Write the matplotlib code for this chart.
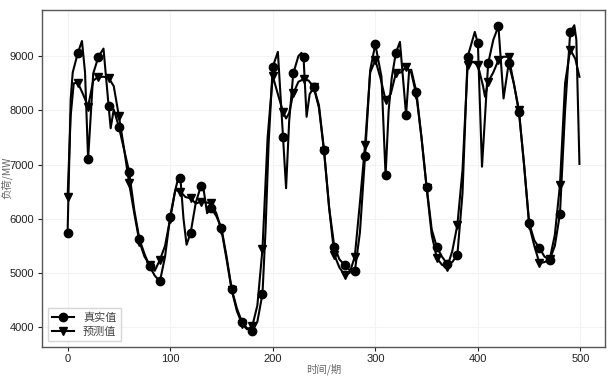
import matplotlib
matplotlib.use("Agg")
import matplotlib.pyplot as plt

real_x = [0, 3, 5, 10, 14, 17, 20, 25, 30, 35, 40, 42, 45, 50, 55, 60, 65, 70, 75, 80,
          85, 90, 95, 100, 105, 108, 110, 113, 116, 120, 125, 130, 132, 136, 140, 145, 150,
          155, 160, 165, 170, 175, 180, 185, 190, 193, 196, 200, 205, 210, 213, 216, 220,
          225, 228, 230, 233, 236, 240, 245, 250, 255, 260, 265, 270, 275, 280, 285, 290,
          295, 300, 306, 310, 313, 316, 320, 324, 330, 333, 335, 340, 345, 350, 355, 360,
          365, 370, 375, 380, 385, 390, 397, 400, 404, 407, 410, 415, 420, 425, 430, 435,
          440, 445, 450, 455, 460, 465, 470, 475, 480, 485, 490, 494, 496, 499]
real_y = [5745, 8200, 8700, 9060, 9280, 8700, 7097, 8680, 8988, 9140, 8079, 7670, 8018,
          7698, 7280, 6869, 6163, 5624, 5350, 5119, 4950, 4843, 5300, 6040, 6530, 6760,
          6747, 6000, 5520, 5745, 6300, 6605, 6620, 6102, 6195, 6050, 5826, 5300, 4702,
          4350, 4095, 3980, 3922, 4100, 4616, 5800, 7400, 8803, 9080, 7514, 6563, 7800,
          8681, 9000, 9061, 8988, 7882, 8300, 8423, 8100, 7269, 6200, 5488, 5250, 5150,
          5050, 5027, 5750, 7158, 8742, 9221, 8620, 6800, 8000, 8600, 9060, 9264, 7920,
          8742, 8750, 8343, 7500, 6593, 5800, 5476, 5300, 5169, 5200, 5334, 6471, 8988,
          9448, 9234, 6961, 7900, 8865, 9300, 9553, 8220, 8865, 8500, 7974, 7000, 5918,
          5600, 5458, 5300, 5242, 5500, 6090, 8000, 9448, 9571, 9300, 7011]

# predicted load
pred_x = [0, 3, 6, 10, 15, 20, 25, 30, 35, 40, 45, 50, 55, 60, 65, 70, 75, 80, 85, 90,
          95, 100, 105, 110, 115, 120, 125, 130, 135, 140, 145, 150, 155, 160, 165, 170,
          175, 180, 185, 190, 195, 200, 205, 210, 213, 216, 220, 225, 230, 235, 240, 245,
          250, 255, 260, 265, 270, 275, 280, 285, 290, 295, 300, 305, 310, 315, 320, 325,
          330, 335, 340, 345, 350, 355, 360, 365, 370, 375, 380, 385, 390, 395, 400, 405,
          407, 410, 415, 420, 425, 430, 435, 440, 445, 450, 455, 460, 465, 470, 475, 480,
          485, 490, 495, 499]
pred_y = [6397, 7900, 8500, 8508, 8300, 8070, 8550, 8619, 8620, 8600, 8447, 7895, 7300,
          6655, 6100, 5580, 5300, 5150, 5040, 5242, 5500, 6000, 6530, 6500, 6400, 6379,
          6280, 6316, 6300, 6287, 6100, 5795, 5250, 4680, 4300, 4060, 3960, 4014, 4400,
          5440, 7500, 8632, 8300, 7974, 7850, 7950, 8313, 8527, 8576, 8550, 8423, 8050,
          7250, 6200, 5335, 5100, 4966, 5000, 5303, 6300, 7361, 8700, 8926, 8600, 8190,
          8300, 8681, 8700, 8803, 8700, 8282, 7500, 6570, 5700, 5273, 5150, 5108, 5400,
          5887, 6900, 8834, 8900, 8834, 8450, 8250, 8527, 8700, 8926, 8990, 8988, 8500,
          8000, 7000, 5880, 5500, 5181, 5200, 5250, 5700, 6624, 8500, 9123, 8950, 8619]

real_marks = [i for i, v in enumerate(real_x) if v % 10 == 0]
pred_marks = [i for i, v in enumerate(pred_x) if v % 10 == 0]

cjk = ['Noto Sans CJK SC', 'DejaVu Sans']
plt.rcParams['font.family'] = ['Liberation Sans', 'DejaVu Sans']

fig = plt.figure(figsize=(6.14, 3.76), dpi=100)
ax = fig.add_axes([0.0684, 0.078, 0.917, 0.8956])

ax.plot(real_x, real_y, color='black', lw=1.5, marker='o', ms=6,
        markevery=real_marks, label='真实值')
ax.plot(pred_x, pred_y, color='black', lw=1.5, marker='v', ms=6,
        markevery=pred_marks, label='预测值')

ax.set_xticks([0, 100, 200, 300, 400, 500])
ax.set_yticks([4000, 5000, 6000, 7000, 8000, 9000])
ax.grid(True, color='#f3f3f3', lw=0.8)
ax.set_axisbelow(True)
ax.tick_params(labelsize=8, colors='#222222', length=3, width=0.8, pad=2.5)
for s in ax.spines.values():
    s.set_color('#555555')
    s.set_linewidth(1.0)

ax.set_xlabel('时间/期', family=cjk, fontsize=7.5, color='#666666')
ax.set_ylabel('负荷/MW', family=cjk, fontsize=7.5, color='#666666')
ax.xaxis.set_label_coords(0.5, -0.05)
ax.yaxis.set_label_coords(-0.053, 0.5)

leg = ax.legend(loc='lower left', prop={'family': cjk, 'size': 8}, frameon=True,
                fancybox=False, borderpad=0.4, handlelength=2.0, labelspacing=0.3)
leg.get_frame().set_edgecolor('#cccccc')
for t in leg.get_texts():
    t.set_color('#444444')

fig.savefig('out.png', dpi=100)
